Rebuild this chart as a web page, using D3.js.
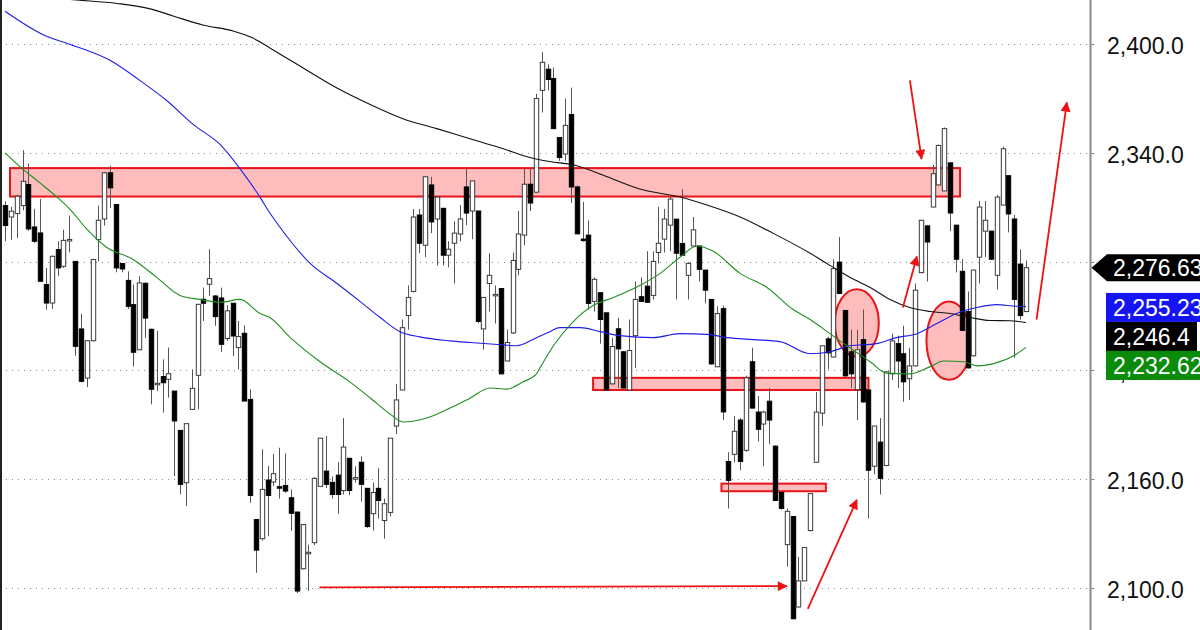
<!DOCTYPE html>
<html>
<head>
<meta charset="utf-8">
<script src="https://cdn.jsdelivr.net/npm/d3@7/dist/d3.min.js"></script>
<style>
  html, body { margin: 0; padding: 0; background: #fff; }
  svg { display: block; font-family: "Liberation Sans", Arial, sans-serif; }
</style>
</head>
<body>
<svg id="chart" width="1200" height="630"></svg>
<script>
'use strict';

/* Data */

// one row per session: open, high, low, close
var bars = [
  [2310.9,2313.3,2291.2,2299.9],[2304.6,2310.2,2292.1,2307.8],[2306.5,2317,2293,2316.1],[2310.9,2341.5,2308.3,2324.3],
  [2322.5,2334.1,2297,2298],[2299.1,2309.1,2290.3,2291.2],[2295.8,2314.6,2269,2269.1],[2267.3,2276.5,2253.4,2257.1],
  [2257.1,2283.3,2253.8,2282.9],[2286.6,2291.2,2271.9,2276.5],[2277.4,2297.6,2276.5,2291.7],[2291.6,2305.4,2285.1,2292.2],
  [2280.1,2280.1,2228,2233.2],[2242.8,2251.2,2213.3,2213.9],[2215.7,2236.3,2210.7,2236.3],[2236.3,2281.5,2236,2281.1],
  [2292.1,2310.9,2280.1,2302.8],[2303.5,2329.5,2299.9,2329],[2329,2333,2309.6,2320.7],[2311.5,2311.5,2274.1,2276.5],
  [2278.9,2279,2274.1,2275.9],[2269.6,2274.6,2253.8,2255.3],[2256.2,2267.3,2222.1,2229.9],[2231.3,2271.9,2231,2268.2],
  [2268,2268.5,2237.8,2248.8],[2242.6,2243,2201.2,2209.5],[2212.2,2241.7,2208.5,2212.8],[2216.5,2226,2196.6,2213.1],
  [2215,2232.5,2204.9,2218.1],[2208.5,2208.5,2161.6,2192],[2186.8,2186.8,2151.5,2157],[2157.9,2190.5,2145,2190.5],
  [2198.4,2220.5,2198,2210],[2217.2,2256.5,2198.4,2256.4],[2259.2,2265.6,2247.2,2257],[2267.5,2286.8,2261,2270.6],
  [2261,2261.5,2244.5,2249.6],[2259.9,2265.6,2230.1,2234.3],[2237.5,2255.9,2236.2,2252.8],[2257,2257,2227.9,2238.9],
  [2232.5,2247.2,2220.5,2238.6],[2240.4,2244.8,2203,2203],[2203.9,2209.5,2146.8,2150.9],[2137.6,2137.6,2108.2,2120.7],
  [2127,2176.3,2126,2154.2],[2159.4,2167.1,2128.4,2150.9],[2158.3,2173.8,2156.1,2162.9],[2155.7,2177.2,2149.1,2155],
  [2156.4,2174.1,2152.4,2153.3],[2149.6,2154.2,2131.4,2141],[2141.7,2142,2097,2098.1],[2110.4,2135,2110,2134.8],
  [2119.1,2123.7,2098.2,2119.5],[2124.8,2161,2123.5,2160.3],[2155.9,2182.6,2155.8,2182.5],[2164.3,2183.7,2154.9,2157],
  [2158.1,2161.4,2149.2,2151.4],[2162.1,2169.2,2140.8,2151.4],[2153.6,2193.6,2151.4,2177.6],[2171.4,2171.5,2151,2153.6],
  [2160.3,2167,2158,2160.7],[2169.2,2172.5,2147.4,2157],[2154.8,2155,2133,2133.7],[2140.8,2158,2131.5,2152.5],
  [2154.8,2165.9,2138.1,2148.1],[2137,2149.2,2127,2146.3],[2141.5,2182.5,2139.2,2182.5],[2189.2,2212.5,2184.8,2203.6],
  [2209.1,2248,2209,2243.5],[2250.2,2266.8,2242.4,2260.2],[2263.5,2309,2263,2304.6],[2305.7,2309,2284.6,2290.1],
  [2289,2327,2282.4,2326.8],[2322.3,2326.8,2295.7,2301.9],[2303.5,2315.6,2277.9,2315.6],[2309.4,2309.5,2277.9,2283.5],
  [2283.5,2291.2,2276.8,2286.8],[2290.1,2302.3,2267.9,2295.7],[2295.2,2311.2,2291.2,2303.5],[2321.2,2331.2,2300.1,2306.8],
  [2307.9,2324.5,2292.4,2324.5],[2307.9,2308,2246,2246.9],[2242.8,2260.5,2231.3,2260.2],[2267.9,2284.6,2252.4,2272.4],
  [2261.5,2266.8,2245.8,2261.9],[2265.1,2265.1,2218,2218],[2225.1,2242.4,2225,2235.3],[2240.6,2285,2240,2280.6],
  [2275.7,2307.9,2272.4,2295.2],[2294.6,2331.2,2289,2322.7],[2322.7,2331.2,2307.9,2312.3],[2318.3,2372.6,2318,2370],
  [2374.5,2395.6,2362.3,2390],[2386.2,2388.9,2374.5,2380.5],[2381.1,2387.1,2353,2353.4],[2348.5,2348.5,2335.6,2337.4],
  [2339.4,2370,2335.6,2355.2],[2361.2,2376,2312.3,2321.2],[2321.2,2322,2295,2295.3],[2292.4,2313,2291,2291.8],
  [2294.6,2302.7,2253.5,2256.9],[2258,2271.3,2252.4,2270.2],[2262.8,2263,2234.7,2248],[2251.7,2252,2209,2209.1],
  [2212.5,2238,2212,2233.1],[2242.9,2249,2210.2,2231.8],[2230.2,2230.5,2210,2210.2],[2209.1,2248,2209,2230.9],
  [2239.1,2269,2221.3,2259.1],[2260.6,2271.3,2257.6,2258],[2266.4,2285.7,2257.5,2257.5],[2261.3,2285.7,2259,2280.1],
  [2285,2310.2,2279,2290.1],[2292.4,2309,2285,2303.5],[2300.1,2315.6,2285.7,2314.5],[2303.4,2303.5,2259.1,2284.6],
  [2290,2319.9,2283.5,2283.5],[2272.4,2279.7,2259.1,2279],[2288.6,2304.6,2288.5,2297.5],[2288.6,2288.6,2269,2275.7],
  [2275.3,2275.3,2256.9,2264.2],[2259.1,2259.1,2223,2223.5],[2221.9,2255.3,2221.8,2251.3],[2254,2255.7,2192.5,2197],
  [2169.6,2174.7,2143.7,2159.2],[2173.6,2194.7,2169.2,2186.3],[2192.5,2193.6,2164.8,2169.6],[2175.8,2217,2175,2215.8],
  [2224.7,2232.4,2199,2199.1],[2196.9,2205.7,2180.7,2187.4],[2190.3,2197.7,2167,2196.9],[2202.9,2210.2,2179.2,2192.5],
  [2178.1,2178.5,2148,2148.1],[2152.5,2153,2143,2143.7],[2123.7,2143.7,2111.5,2142.1],[2139.2,2139.5,2082.6,2082.8],
  [2089.3,2117,2089,2103.7],[2103.7,2122.5,2103.5,2122.1],[2131.5,2152,2131,2151.9],[2169.2,2208,2169,2196.9],
  [2196.3,2233.5,2189.2,2233.5],[2237.3,2238.4,2220.6,2229.6],[2227.3,2281.3,2227,2276.1],[2279.7,2293.5,2262,2262.4],
  [2253,2253,2216.5,2216.9],[2230.2,2242.4,2210.2,2218],[2209.3,2242.4,2192.5,2231.3],[2236.9,2253.5,2202,2202.5],
  [2209.1,2209.1,2138.1,2164.8],[2167,2189.2,2162.5,2189.2],[2180.3,2193.6,2151.4,2160.3],[2167.4,2219.5,2167,2219.1],
  [2218,2240.2,2214.7,2236.2],[2234.7,2239.1,2210.2,2225.1],[2229.1,2244.6,2202.5,2213.6],[2215.3,2232.4,2203.6,2222.4],
  [2222.4,2267.9,2222,2264.2],[2273.9,2303,2273.5,2302.8],[2299.7,2300,2269,2290.8],[2310.1,2333.4,2310,2328.5],
  [2322.3,2344.6,2322,2344.1],[2319,2354,2319,2353.4],[2334.5,2334.5,2296.8,2306.8],[2300.1,2300.1,2274,2281.3],
  [2274.6,2281.3,2241.5,2242],[2252.4,2263.5,2221,2221.3],[2228,2275.5,2227.5,2275.3],[2282.4,2313.4,2267.9,2310.1],
  [2296.8,2313.4,2282.4,2302.8],[2296.8,2297,2281,2281.3],[2272.4,2316.8,2264.6,2315.6],[2311.2,2343.4,2311,2342.3],
  [2327.4,2327.5,2296.1,2306.3],[2303.5,2305.7,2226.9,2259.1],[2278.6,2286.8,2248,2250.2],[2252.4,2280.6,2252,2276.63]
];

// moving averages read as [bar index, value]
var maSlow = [
  [4.3,2426.6],[12.3,2424.4],[19.2,2422.5],[24.9,2419.5],[28.8,2415.6],[33.9,2410.6],[39.1,2407.3],[42.5,2403.4],
  [45.4,2397.9],[47.1,2394.6],[51.1,2386.9],[56.9,2375.8],[62.6,2366.7],[68.2,2358.9],[74,2353.4],[79.7,2347.8],
  [85.4,2342.3],[89.5,2337.9],[93.4,2335.2],[97.4,2333.4],[103.2,2326.8],[108.8,2320.1],[115.7,2315.6],[120.3,2311.2],
  [126,2304.6],[131.6,2295.7],[138,2284.6],[141.4,2277.9],[144.8,2271.3],[148.3,2265.7],[151.7,2259.1],[155.1,2254.6],
  [158.6,2252.4],[162,2251.3],[165.4,2249.1],[168.8,2247.5],[172.3,2247.3],[175,2246.4]
];
var maMid = [
  [0,2418.2],[7.1,2404.4],[11.1,2400],[18,2391.1],[23.1,2380],[27.7,2368.9],[32.3,2355.6],[36.9,2344.5],
  [40.3,2331.2],[43.7,2315.6],[45.4,2306.8],[47.1,2299.1],[52.3,2279],[56.9,2267.9],[60.9,2257.9],[64.3,2249.1],
  [67.7,2241.3],[71.1,2238.4],[76.3,2236.2],[79.7,2235.3],[85.4,2234],[87.7,2233.5],[91.1,2238],[93.4,2241.3],
  [95.1,2243.5],[98.6,2243.5],[102,2241.3],[105.4,2239.1],[111.1,2238],[115.7,2240.2],[120.3,2239.8],[123.8,2238],
  [128.2,2236.9],[132.8,2235.8],[138,2229.1],[141.4,2230.2],[144.8,2233.5],[149.4,2234.7],[152.8,2238],[156.3,2240.2],
  [159.7,2245.8],[163.1,2251.3],[166.6,2254.6],[170,2256.2],[173.4,2255.3],[175,2255.23]
];
var maFast = [
  [0,2340],[2.6,2332.3],[6,2323.4],[8.9,2315.6],[11.1,2309],[14,2298],[17.4,2287.9],[21.9,2281.3],
  [26,2271.3],[30,2261.3],[33.4,2259.1],[36.9,2257.5],[40.3,2259.1],[43.7,2251.3],[45.4,2249.1],[48.9,2238],
  [54,2224.7],[59.1,2213.6],[62.6,2204.7],[66,2195.8],[68.3,2191.4],[72.3,2193.6],[76.3,2199.1],[79.7,2204.6],
  [83.1,2210.2],[86,2209.6],[88.8,2213.6],[91.1,2218],[91.7,2221.3],[94,2233.5],[97.4,2246.9],[100.8,2255.7],
  [104.3,2260.2],[108.8,2266.8],[112.3,2273.5],[115.7,2282.4],[118.6,2288.6],[121.4,2285.7],[126,2273.5],[130.6,2265.7],
  [135.1,2253.5],[138,2248],[141.4,2240.2],[144.8,2232.4],[148.3,2224.7],[151.1,2218.4],[155.1,2218],[158.6,2222],
  [160.9,2225.1],[164.3,2224.7],[166.6,2222.4],[170,2224.2],[172.9,2228],[175,2232.62]
];

var priceTicks = [2100, 2160, 2220, 2280, 2340, 2400];

// drawn annotations: zones [from bar, to bar, top, bottom], ovals [bar, price, half bars, half price], arrows [bar0, p0, bar1, p1]
var zones = [[0.86, 163.7, 2331.6, 2315.9], [100.8, 148.0, 2215.8, 2209.1], [122.8, 140.7, 2157.4, 2153.2]];
var ovals = [[146.0, 2246.1, 3.77, 18.6], [161.8, 2236.3, 3.86, 21.6]];
var arrows = [
  [53.9, 2100.1, 134.0, 2100.8],
  [137.6, 2088.2, 146.0, 2148.4],
  [155.1, 2380.0, 157.1, 2336.7],
  [153.9, 2254.6, 156.3, 2282.8],
  [176.8, 2248.0, 182.0, 2367.8]
];

// right hand value tags
var lastTag = {value: 2276.63, fill: '#000'};
var maTags = [
  {value: 2255.23, fill: '#1414f5'},
  {value: 2246.4, fill: '#000'},
  {value: 2232.62, fill: '#0a8c0a'}
];

/* Drawing */

var svg = d3.select('#chart');
var axisX = 1090.5;

var x = d3.scaleLinear().domain([0, bars.length - 1]).range([5, 1026]);
var y = d3.scaleLinear().domain([2100, 2400]).range([587.6, 44.2]);
var fmt = d3.format(',.1f');

svg.append('clipPath').attr('id', 'plot')
  .append('rect').attr('x', 0).attr('y', 0).attr('width', axisX).attr('height', 630);

var defs = svg.append('defs');
defs.append('marker')
  .attr('id', 'head')
  .attr('viewBox', '0 0 10 10')
  .attr('refX', 9).attr('refY', 5)
  .attr('markerUnits', 'userSpaceOnUse')
  .attr('markerWidth', 14).attr('markerHeight', 10)
  .attr('orient', 'auto')
  .append('path').attr('d', 'M0,0L10,5L0,10z').attr('fill', '#ee1111');

var plot = svg.append('g').attr('clip-path', 'url(#plot)');

// grid
plot.selectAll('.grid').data(priceTicks).enter().append('line')
  .attr('x1', 0).attr('x2', axisX - 3)
  .attr('y1', function(d){ return Math.round(y(d)) + 0.5 })
  .attr('y2', function(d){ return Math.round(y(d)) + 0.5 })
  .attr('stroke', '#888').attr('stroke-width', 1)
  .attr('stroke-dasharray', '1,5')

// pink zones and ovals under the candles
plot.selectAll('.zone').data(zones).enter().append('rect')
  .attr('x', function(d){ return x(d[0]) })
  .attr('y', function(d){ return y(d[2]) })
  .attr('width', function(d){ return x(d[1]) - x(d[0]) })
  .attr('height', function(d){ return y(d[3]) - y(d[2]) })
  .attr('fill', '#ffbcbc').attr('stroke', '#e8141a').attr('stroke-width', 2)

plot.selectAll('.oval').data(ovals).enter().append('ellipse')
  .attr('cx', function(d){ return x(d[0]) })
  .attr('cy', function(d){ return y(d[1]) })
  .attr('rx', function(d){ return x(d[0] + d[2]) - x(d[0]) })
  .attr('ry', function(d){ return y(d[1] - d[3]) - y(d[1]) })
  .attr('fill', '#ffbcbc').attr('stroke', '#e8141a').attr('stroke-width', 2)

// candles
var half = 2.2;
var candle = plot.selectAll('.candle').data(bars).enter().append('g');

candle.append('line')
  .attr('x1', function(d, i){ return Math.round(x(i)) + 0.5 })
  .attr('x2', function(d, i){ return Math.round(x(i)) + 0.5 })
  .attr('y1', function(d){ return y(d[1]) })
  .attr('y2', function(d){ return y(d[2]) })
  .attr('stroke', '#555').attr('stroke-width', 1)

candle.append('rect')
  .attr('x', function(d, i){ return Math.round(x(i)) + 0.5 - half })
  .attr('y', function(d){ return y(Math.max(d[0], d[3])) })
  .attr('width', half * 2)
  .attr('height', function(d){ return Math.max(1.5, Math.abs(y(d[0]) - y(d[3]))) })
  .attr('fill', function(d){ return d[3] >= d[0] ? '#fff' : '#000' })
  .attr('stroke', function(d){ return d[3] >= d[0] ? '#3a3a3a' : '#000' })
  .attr('stroke-width', 1)

// moving averages
var line = d3.line()
  .x(function(d){ return x(d[0]) })
  .y(function(d){ return y(d[1]) })
  .curve(d3.curveMonotoneX)

;[[maSlow, '#111'], [maMid, '#1e1ee6'], [maFast, '#1f8f1f']].forEach(function(s){
  plot.append('path').datum(s[0])
    .attr('d', line)
    .attr('fill', 'none')
    .attr('stroke', s[1])
    .attr('stroke-width', 1.1)
})

// red arrows
plot.selectAll('.arrow').data(arrows).enter().append('line')
  .attr('x1', function(d){ return x(d[0]) })
  .attr('y1', function(d){ return y(d[1]) })
  .attr('x2', function(d){ return x(d[2]) })
  .attr('y2', function(d){ return y(d[3]) })
  .attr('stroke', '#ee1111').attr('stroke-width', 1.8)
  .attr('marker-end', 'url(#head)')

// frame and price axis
svg.append('line')
  .attr('x1', 1).attr('x2', 1).attr('y1', 0).attr('y2', 630)
  .attr('stroke', '#222').attr('stroke-width', 2)

svg.append('line')
  .attr('x1', axisX).attr('x2', axisX).attr('y1', 0).attr('y2', 630)
  .attr('stroke', '#8a8a8a').attr('stroke-width', 2)

svg.selectAll('.tick').data(priceTicks).enter().append('line')
  .attr('x1', axisX).attr('x2', axisX + 4)
  .attr('y1', function(d){ return Math.round(y(d)) + 0.5 })
  .attr('y2', function(d){ return Math.round(y(d)) + 0.5 })
  .attr('stroke', '#8a8a8a').attr('stroke-width', 1)

svg.selectAll('.label').data(priceTicks).enter().append('text')
  .attr('x', 1107)
  .attr('y', function(d){ return y(d) + 10 })
  .attr('font-size', 23)
  .attr('fill', '#111')
  .text(function(d){ return fmt(d) })

// last price tag with a pointer
var tagH = 27;
var ly = y(lastTag.value);
svg.append('path')
  .attr('d', 'M' + (axisX + 1) + ',' + ly + 'L1107,' + (ly - tagH / 2) + 'L1200,' + (ly - tagH / 2) +
    'L1200,' + (ly + tagH / 2) + 'L1107,' + (ly + tagH / 2) + 'Z')
  .attr('fill', lastTag.fill)
svg.append('text')
  .attr('x', 1113).attr('y', ly + 8.5)
  .attr('font-size', 23).attr('fill', '#fff')
  .text(d3.format(',.2f')(lastTag.value))

// moving average tags, pushed down so they do not overlap
var boxH = 29, prevBottom = -Infinity;
maTags.forEach(function(t){
  var top = Math.max(y(t.value) - boxH / 2 + 1, prevBottom);
  prevBottom = top + boxH;
  svg.append('rect')
    .attr('x', 1106).attr('y', top).attr('width', t.fill === '#000' ? 91 : 94).attr('height', boxH)
    .attr('fill', t.fill)
  svg.append('text')
    .attr('x', 1113).attr('y', top + boxH / 2 + 8.5)
    .attr('font-size', 23).attr('fill', '#fff')
    .text(d3.format(',')(t.value))
})
</script>
</body>
</html>
